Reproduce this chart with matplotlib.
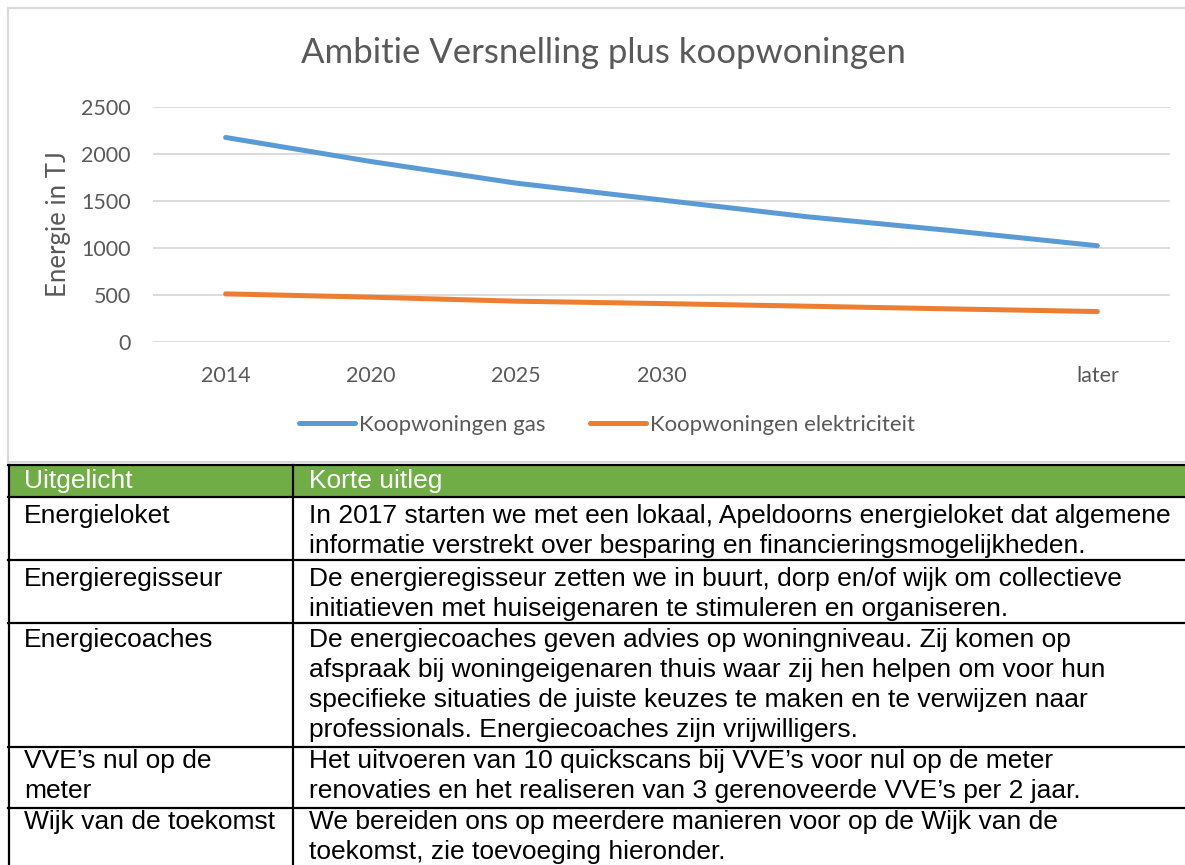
import numpy as np
import matplotlib
matplotlib.use("Agg")
from matplotlib import pyplot as plt
from matplotlib.lines import Line2D
from matplotlib.patches import Rectangle

# chart data
categories = ["2014", "2020", "2025", "2030", "", "", "later"]
gas = [2176, 1920, 1690, 1511, 1333, 1184, 1024]
elek = [512, 477, 434, 409, 381, 352, 324]
series_names = ["Koopwoningen gas", "Koopwoningen elektriciteit"]

# table below the chart
table_header = ["Uitgelicht", "Korte uitleg"]
table_labels = [["Energieloket"],
                ["Energieregisseur"],
                ["Energiecoaches"],
                ["VVE\u2019s nul op de", "meter"],
                ["Wijk van de toekomst"]]
table_text = [
    ["In 2017 starten we met een lokaal, Apeldoorns energieloket dat algemene",
     "informatie verstrekt over besparing en financieringsmogelijkheden."],
    ["De energieregisseur zetten we in buurt, dorp en/of wijk om collectieve",
     "initiatieven met huiseigenaren te stimuleren en organiseren."],
    ["De energiecoaches geven advies op woningniveau. Zij komen op",
     "afspraak bij woningeigenaren thuis waar zij hen helpen om voor hun",
     "specifieke situaties de juiste keuzes te maken en te verwijzen naar",
     "professionals. Energiecoaches zijn vrijwilligers."],
    ["Het uitvoeren van 10 quickscans bij VVE\u2019s voor nul op de meter",
     "renovaties en het realiseren van 3 gerenoveerde VVE\u2019s per 2 jaar."],
    ["We bereiden ons op meerdere manieren voor op de Wijk van de",
     "toekomst, zie toevoeging hieronder."],
]

W, H = 1185, 865
def fx(x):
    return x / W
def fy(y):
    return 1 - y / H

grey_txt = "#595959"
fig = plt.figure(figsize=(11.85, 8.65), dpi=100)
fig.patch.set_facecolor("white")

# chart frame
fig.add_artist(Line2D([fx(8), fx(1185)], [fy(8), fy(8)], color="#d9d9d9", lw=1.5))
fig.add_artist(Line2D([fx(8), fx(8)], [fy(8), fy(462)], color="#d9d9d9", lw=1.5))
fig.add_artist(Line2D([fx(8), fx(1185)], [fy(462), fy(462)], color="#d9d9d9", lw=1.5))

ax = fig.add_axes([fx(153), fy(342), fx(1170) - fx(153), fy(107) - fy(342)])
x = np.arange(len(categories))
ax.plot(x, gas, color="#5b9bd5", lw=3.6, solid_capstyle="round", label=series_names[0])
ax.plot(x, elek, color="#ed7d31", lw=3.6, solid_capstyle="round", label=series_names[1])
ax.set_xlim(-0.5, len(categories) - 0.5)
ax.set_ylim(0, 2500)
ax.set_yticks(np.arange(0, 2501, 500))
ax.set_xticks(x)
ax.set_xticklabels(categories)
ax.grid(axis="y", color="#d9d9d9", lw=1.3)
ax.set_axisbelow(True)
for s in ax.spines.values():
    s.set_visible(False)
ax.tick_params(length=0, labelcolor=grey_txt, labelsize=15.5)
ax.tick_params(axis="y", pad=16)
ax.tick_params(axis="x", pad=17)
for lab in ax.get_xticklabels() + ax.get_yticklabels():
    lab.set_family("Lato")
ax.set_ylabel("Energie in TJ", color=grey_txt, fontsize=18.5, family="Lato", labelpad=7)

fig.text(fx(603), fy(53), "Ambitie Versnelling plus koopwoningen", ha="center", va="center",
         fontsize=25, color=grey_txt, family="Lato")

fig.legend(loc="center", bbox_to_anchor=(fx(607), fy(425)), ncol=2, frameon=False,
           prop={"family": "Lato", "size": 16}, labelcolor=grey_txt,
           handlelength=2.5, handletextpad=0.2, columnspacing=2.0)

# table
tfont = dict(family="Liberation Sans", fontsize=19, color="black")
row_lines = [497, 560, 623, 747, 808]
first_base = [523, 586, 647, 768, 829]
pitch = 30
col_x = 293
fig.add_artist(Rectangle((fx(10), fy(497)), fx(1185) - fx(10), fy(465) - fy(497),
                         transform=fig.transFigure, facecolor="#70ad47", edgecolor="none"))
fig.add_artist(Line2D([fx(8), fx(1185)], [fy(465), fy(465)], color="black", lw=1.6))
for yy in row_lines:
    fig.add_artist(Line2D([fx(8), fx(1185)], [fy(yy), fy(yy)], color="black", lw=1.6))
fig.add_artist(Line2D([fx(9), fx(9)], [fy(465), fy(865)], color="black", lw=1.6))
fig.add_artist(Line2D([fx(col_x), fx(col_x)], [fy(465), fy(865)], color="black", lw=1.6))

fig.text(fx(24), fy(488), table_header[0], va="baseline", **dict(tfont, color="white"))
fig.text(fx(col_x + 16), fy(488), table_header[1], va="baseline", **dict(tfont, color="white"))
for i, base in enumerate(first_base):
    for j, line in enumerate(table_labels[i]):
        fig.text(fx(24), fy(base + pitch * j), line, va="baseline", **tfont)
    for j, line in enumerate(table_text[i]):
        fig.text(fx(col_x + 16), fy(base + pitch * j), line, va="baseline", **tfont)

fig.savefig("out.png", dpi=100)
